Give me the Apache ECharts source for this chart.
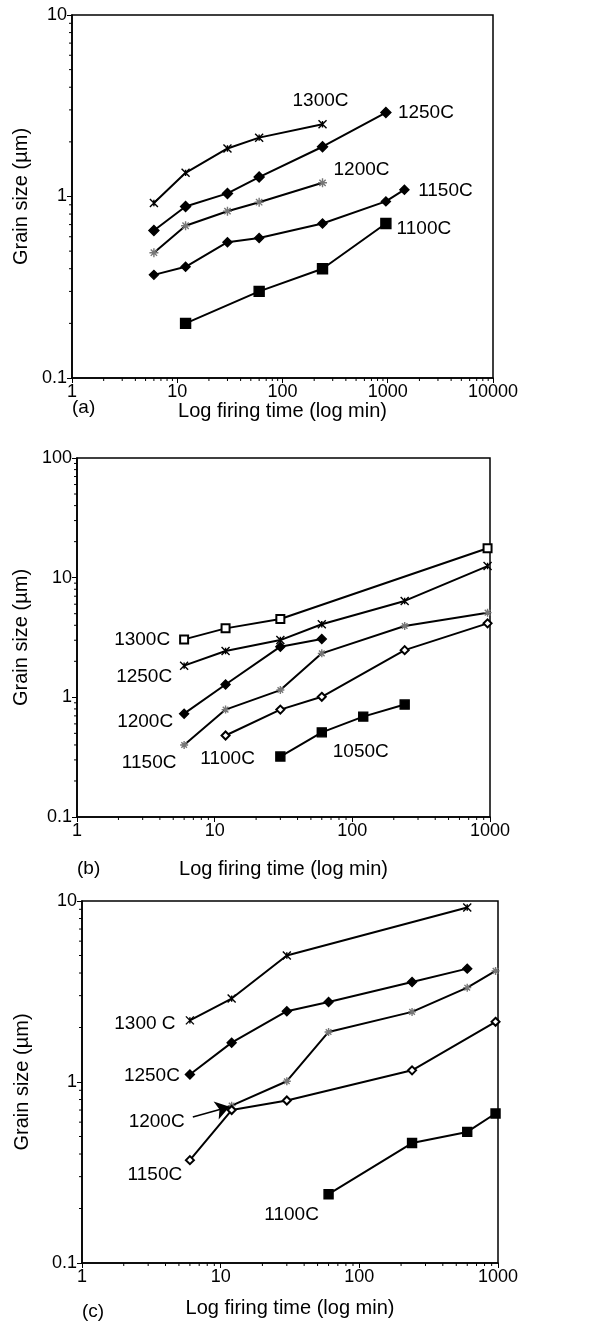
<!DOCTYPE html>
<html>
<head>
<meta charset="utf-8">
<title>Grain size vs firing time</title>
<script src="https://cdn.jsdelivr.net/npm/echarts@6.0.0/dist/echarts.min.js"></script>
<style>
  html, body { margin: 0; padding: 0; background: #fff; }
  #chart { width: 602px; height: 1328px; }
</style>
</head>
<body>
<div id="chart"></div>
<script>
// panel (a) : [firing time (min), grain size (um)]
const a1300 = [[6, 0.92], [12, 1.35], [30, 1.84], [60, 2.11], [240, 2.5]];
const a1250 = [[6, 0.65], [12, 0.88], [30, 1.04], [60, 1.28], [240, 1.88], [960, 2.9]];
const a1200 = [[6, 0.49], [12, 0.69], [30, 0.83], [60, 0.93], [240, 1.19]];
const a1150 = [[6, 0.37], [12, 0.41], [30, 0.56], [60, 0.59], [240, 0.71], [960, 0.94], [1440, 1.09]];
const a1100 = [[12, 0.2], [60, 0.3], [240, 0.4], [960, 0.71]];

// panel (b)
const b1300 = [[6, 3.05], [12, 3.77], [30, 4.52], [960, 17.6]];
const b1250 = [[6, 1.84], [12, 2.44], [30, 3.01], [60, 4.08], [240, 6.39], [960, 12.5]];
const b1200 = [[6, 0.73], [12, 1.28], [30, 2.65], [60, 3.07]];
const b1150 = [[6, 0.4], [12, 0.79], [30, 1.15], [60, 2.33], [240, 3.95], [960, 5.1]];
const b1100 = [[12, 0.48], [30, 0.79], [60, 1.01], [240, 2.48], [960, 4.15]];
const b1050 = [[30, 0.32], [60, 0.51], [120, 0.69], [240, 0.87]];

// panel (c)
const c1300 = [[6, 2.19], [12, 2.89], [30, 5.0], [600, 9.2]];
const c1250 = [[6, 1.1], [12, 1.65], [30, 2.46], [60, 2.77], [240, 3.57], [600, 4.23]];
const c1200 = [[12, 0.74], [30, 1.01], [60, 1.89], [240, 2.44], [600, 3.32], [960, 4.11]];
const c1150 = [[6, 0.37], [12, 0.7], [30, 0.79], [240, 1.16], [960, 2.15]];
const c1100 = [[60, 0.24], [240, 0.46], [600, 0.53], [960, 0.67]];

// axis ranges
const xMaxes = [10000, 1000, 1000];
const yMaxes = [10, 100, 10];
const minorSteps = [2, 3, 4, 5, 6, 7, 8, 9];
const decadesX = [[1, 10, 100, 1000], [1, 10, 100], [1, 10, 100]];
const decadesY = [[0.1, 1], [0.1, 1, 10], [0.1, 1]];

const FONT = '"Liberation Sans", Arial, Helvetica, sans-serif';
const STAR = 'path://M5,0L5,10M0,5L10,5M1.5,1.5L8.5,8.5M8.5,1.5L1.5,8.5';
const CROSS = 'path://M0,0L10,10M10,0L0,10M5,1L5,9';

function line(grid, pts, symbol, size, color, lab) {
  const data = pts.map(function (p, i) {
    if (!lab || i !== lab.idx) return p;
    return {
      value: p,
      label: {
        show: true, formatter: lab.text, position: 'inside', offset: [lab.dx, lab.dy],
        fontSize: 19, color: '#000', fontFamily: FONT
      }
    };
  });
  return {
    type: 'line', xAxisIndex: grid, yAxisIndex: grid, data: data,
    symbol: symbol, symbolSize: size, showAllSymbol: true,
    lineStyle: { color: '#000', width: 2 },
    itemStyle: { color: color, borderColor: color, borderWidth: 1.4 },
    label: { show: false }, silent: true, z: 3
  };
}

function minorTicks(grid) {
  const data = [];
  decadesX[grid].forEach(function (d) {
    minorSteps.forEach(function (s) { data.push([d * s, 0.1, 0]); });
  });
  decadesY[grid].forEach(function (d) {
    minorSteps.forEach(function (s) { data.push([1, d * s, 1]); });
  });
  return {
    type: 'custom', xAxisIndex: grid, yAxisIndex: grid, silent: true, clip: false,
    encode: { x: 0, y: 1 }, data: data,
    renderItem: function (params, api) {
      const p = api.coord([api.value(0), api.value(1)]);
      const horiz = api.value(2) === 1;
      return {
        type: 'line',
        shape: horiz ? { x1: p[0] - 3, y1: p[1], x2: p[0], y2: p[1] }
                     : { x1: p[0], y1: p[1], x2: p[0], y2: p[1] + 3 },
        style: { stroke: '#000', lineWidth: 1 }
      };
    }
  };
}

const grids = [
  { left: 72, top: 15, width: 421, height: 363 },
  { left: 77, top: 458, width: 413, height: 359 },
  { left: 82, top: 901, width: 416, height: 362 }
].map(function (g) { return Object.assign({ show: true, borderColor: '#000', borderWidth: 1.5 }, g); });

const xGaps = [17, 42, 35];
const yGaps = [40, 45, 50];

function plain(v) { return String(v); }

const xAxes = [0, 1, 2].map(function (i) {
  return {
    type: 'log', logBase: 10, gridIndex: i, min: 1, max: xMaxes[i],
    name: 'Log firing time (log min)', nameLocation: 'middle', nameGap: xGaps[i],
    nameTextStyle: { fontSize: 20, color: '#000', fontFamily: FONT },
    axisLine: { lineStyle: { color: '#000', width: 1.6 } },
    axisTick: { length: 5, lineStyle: { color: '#000', width: 1 } },
    axisLabel: { fontSize: 18, color: '#000', margin: 5, fontFamily: FONT, formatter: plain },
    splitLine: { show: false }
  };
});

const yAxes = [0, 1, 2].map(function (i) {
  return {
    type: 'log', logBase: 10, gridIndex: i, min: 0.1, max: yMaxes[i],
    name: 'Grain size (\u00b5m)', nameLocation: 'middle', nameGap: yGaps[i],
    nameTextStyle: { fontSize: 20, color: '#000', fontFamily: FONT },
    axisLine: { lineStyle: { color: '#000', width: 1.6 } },
    axisTick: { length: 5, lineStyle: { color: '#000', width: 1 } },
    axisLabel: { fontSize: 18, color: '#000', margin: 5, fontFamily: FONT, formatter: plain },
    splitLine: { show: false }
  };
});

const GREY = '#777';
const series = [
  line(0, a1300, CROSS, 8, '#000', { idx: 4, text: '1300C', dx: -2, dy: -24 }),
  line(0, a1250, 'diamond', 10, '#000', { idx: 5, text: '1250C', dx: 40, dy: 0 }),
  line(0, a1200, STAR, 9, GREY, { idx: 4, text: '1200C', dx: 39, dy: -13 }),
  line(0, a1150, 'diamond', 9, '#000', { idx: 6, text: '1150C', dx: 41, dy: 1 }),
  line(0, a1100, 'rect', 10, '#000', { idx: 3, text: '1100C', dx: 38, dy: 5 }),

  line(1, b1300, 'emptyRect', 8, '#000', { idx: 0, text: '1300C', dx: -42, dy: 0 }),
  line(1, b1250, CROSS, 8, '#000', { idx: 0, text: '1250C', dx: -40, dy: 11 }),
  line(1, b1200, 'diamond', 9, '#000', { idx: 0, text: '1200C', dx: -39, dy: 8 }),
  line(1, b1150, STAR, 8, GREY, { idx: 0, text: '1150C', dx: -35, dy: 18 }),
  line(1, b1100, 'emptyDiamond', 8, '#000', { idx: 0, text: '1100C', dx: 2, dy: 23 }),
  line(1, b1050, 'rect', 9, '#000', { idx: 1, text: '1050C', dx: 39, dy: 19 }),

  line(2, c1300, CROSS, 8, '#000', { idx: 0, text: '1300 C', dx: -45, dy: 3 }),
  line(2, c1250, 'diamond', 9, '#000', { idx: 0, text: '1250C', dx: -38, dy: 1 }),
  line(2, c1200, STAR, 8, GREY, { idx: 0, text: '1200C', dx: -75, dy: 16 }),
  line(2, c1150, 'emptyDiamond', 8, '#000', { idx: 0, text: '1150C', dx: -35, dy: 15 }),
  line(2, c1100, 'rect', 9, '#000', { idx: 0, text: '1100C', dx: -37, dy: 21 }),

  minorTicks(0), minorTicks(1), minorTicks(2)
];

// arrow pointing from the "1200C" label in panel (c) to its curve
series[13].markLine = {
  silent: true, symbol: ['none', 'arrow'], symbolSize: 14,
  label: { show: false },
  lineStyle: { color: '#000', width: 1.6, type: 'solid' },
  data: [[{ coord: [6.3, 0.64] }, { coord: [11.6, 0.73] }]]
};

const chart = echarts.init(document.getElementById('chart'), null, { renderer: 'canvas' });
chart.setOption({
  animation: false,
  backgroundColor: '#fff',
  textStyle: { fontFamily: FONT },
  grid: grids,
  xAxis: xAxes,
  yAxis: yAxes,
  graphic: [
    { type: 'text', left: 72, top: 398, style: { text: '(a)', fontSize: 19, fill: '#000', fontFamily: FONT } },
    { type: 'text', left: 77, top: 859, style: { text: '(b)', fontSize: 19, fill: '#000', fontFamily: FONT } },
    { type: 'text', left: 82, top: 1302, style: { text: '(c)', fontSize: 19, fill: '#000', fontFamily: FONT } }
  ],
  series: series
});
</script>
</body>
</html>
